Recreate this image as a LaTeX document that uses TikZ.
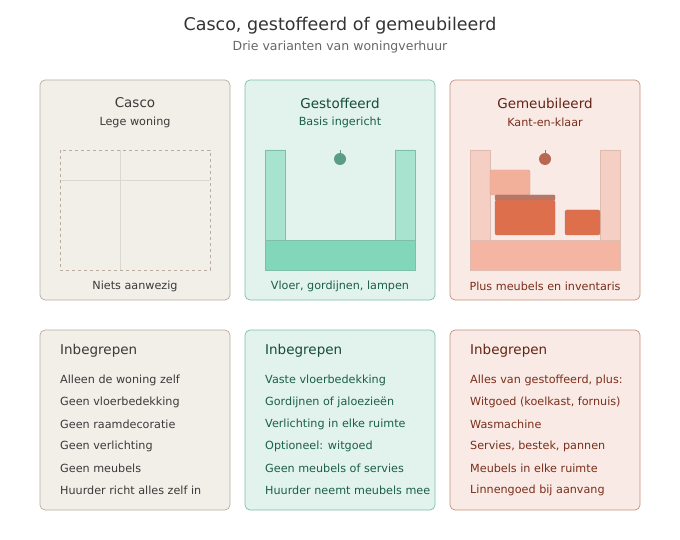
\documentclass[tikz,border=0pt]{standalone}
\usepackage{fontspec}
\setmainfont{DejaVu Sans}
\begin{document}
\begin{tikzpicture}[x=1pt,y=-1pt,
 card/.style={rounded corners=5pt,line width=0.7pt},
 ttl/.style={font=\fontsize{13.5}{16}\selectfont},
 sub/.style={font=\fontsize{11.2}{13}\selectfont},
 item/.style={font=\fontsize{11.2}{13}\selectfont,anchor=west,inner sep=0pt},
 hd/.style={font=\fontsize{13.5}{16}\selectfont,anchor=west,inner sep=0pt}]
\definecolor{cbg}{HTML}{F2EEE8}\definecolor{cbd}{HTML}{B8ADA0}\definecolor{ctx}{HTML}{3A3A3A}
\definecolor{gbg}{HTML}{E1F3EC}\definecolor{gbd}{HTML}{7FBFA8}\definecolor{gtx}{HTML}{1B5E4A}
\definecolor{rbg}{HTML}{F9EAE5}\definecolor{rbd}{HTML}{C8907A}\definecolor{rtx}{HTML}{7A2E1A}
\definecolor{gwall}{HTML}{A8E3D0}\definecolor{gfloor}{HTML}{82D6B9}\definecolor{gdot}{HTML}{5A9C86}
\definecolor{rwall}{HTML}{F5CFC3}\definecolor{rfloor}{HTML}{F4B6A2}\definecolor{rbox1}{HTML}{F2B09A}
\definecolor{rbar}{HTML}{B87766}\definecolor{rbox}{HTML}{DD6F4C}\definecolor{rdot}{HTML}{B86852}
\useasboundingbox (0,0) rectangle (680,540);
\node[font=\fontsize{17.5}{20}\selectfont,text=black!80] (title) at (340,26) {Casco, gestoffeerd of gemeubileerd};
\node[font=\fontsize{12.5}{14}\selectfont,text=black!60] (subtitle) at (340,47) {Drie varianten van woningverhuur};
% top cards
\draw[card,fill=cbg,draw=cbd] (40,80) rectangle (230,300);
\draw[card,fill=gbg,draw=gbd] (245,80) rectangle (435,300);
\draw[card,fill=rbg,draw=rbd] (450,80) rectangle (640,300);
\node[ttl,text=ctx] (t1) at (135,103) {Casco};
\node[sub,text=ctx] (s1) at (135,122) {Lege woning};
\node[ttl,text=gtx!80!black] (t2) at (340,103) {Gestoffeerd};
\node[sub,text=gtx] (s2) at (340,122) {Basis ingericht};
\node[ttl,text=rtx!80!black] (t3) at (545,103) {Gemeubileerd};
\node[sub,text=rtx] (s3) at (545,122) {Kant-en-klaar};
\node[sub,text=ctx] (f1) at (135,286) {Niets aanwezig};
\node[sub,text=gtx] (f2) at (340,286) {Vloer, gordijnen, lampen};
\node[sub,text=rtx] (f3) at (545,286) {Plus meubels en inventaris};
% casco drawing
\draw[cbd!50,line width=0.6pt] (120,150) -- (120,270) (60,180) -- (210,180);
\draw[cbd,dashed,line width=0.8pt] (60,150) rectangle (210,270);
% gestoffeerd drawing
\draw[fill=gwall,draw=gbd] (265,150) rectangle (285,240) (395,150) rectangle (415,240);
\draw[fill=gfloor,draw=gbd] (265,240) rectangle (415,270);
\fill[gdot] (340,159) circle (6);
\draw[gdot] (340,150) -- (340,165);
% gemeubileerd drawing
\draw[fill=rwall,draw=rbd!60] (470,150) rectangle (490,240) (600,150) rectangle (620,240);
\draw[fill=rfloor,draw=rbd!60] (470,240) rectangle (620,270);
\draw[rounded corners=1.5pt,fill=rbox1,draw=rbd!80] (490,170) rectangle (530,195);
\draw[rounded corners=1pt,fill=rbar,draw=rbar] (495,195) rectangle (555,200);
\draw[rounded corners=2pt,fill=rbox,draw=rbar] (495,200) rectangle (555,235);
\draw[rounded corners=2pt,fill=rbox,draw=rbar] (565,210) rectangle (600,235);
\fill[rdot] (545,159) circle (6);
\draw[rdot] (545,150) -- (545,165);
% bottom cards
\draw[card,fill=cbg,draw=cbd] (40,330) rectangle (230,510);
\draw[card,fill=gbg,draw=gbd] (245,330) rectangle (435,510);
\draw[card,fill=rbg,draw=rbd] (450,330) rectangle (640,510);
\node[hd,text=ctx] (h1) at (60,351) {Inbegrepen};
\node[hd,text=gtx!80!black] (h2) at (265,351) {Inbegrepen};
\node[hd,text=rtx!80!black] (h3) at (470,351) {Inbegrepen};
\foreach \t [count=\i] in {Alleen de woning zelf,Geen vloerbedekking,Geen raamdecoratie,Geen verlichting,Geen meubels,Huurder richt alles zelf in}
  \node[item,text=ctx] (a\i) at (60,{358+22*\i}) {\t};
\begin{scope}
\clip (240,330) rectangle (442,510);
\foreach \t [count=\i] in {Vaste vloerbedekking,Gordijnen of jaloezieën,Verlichting in elke ruimte,Optioneel: witgoed,Geen meubels of servies,Huurder neemt meubels mee}
  \node[item,text=gtx] (b\i) at (265,{358+22*\i}) {\t};
\end{scope}
\foreach \t [count=\i] in {{Alles van gestoffeerd, plus:},{Witgoed (koelkast, fornuis)},Wasmachine,{Servies, bestek, pannen},Meubels in elke ruimte,Linnengoed bij aanvang}
  \node[item,text=rtx] (c\i) at (470,{358+22*\i}) {\t};
\end{tikzpicture}
\end{document}
